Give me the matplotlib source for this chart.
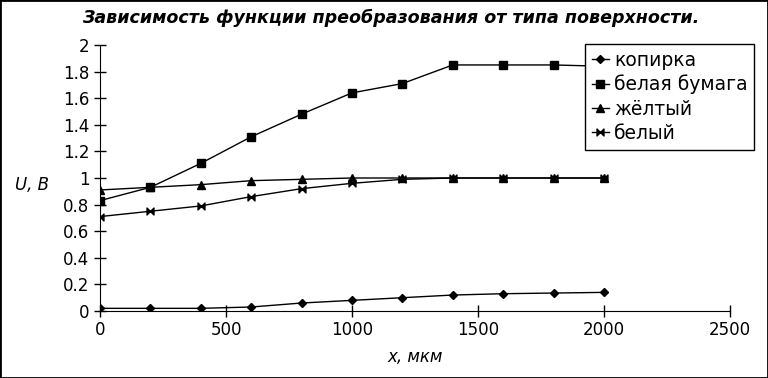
import matplotlib.pyplot as plt
from matplotlib.path import Path
from matplotlib.patches import Rectangle

x = [0, 200, 400, 600, 800, 1000, 1200, 1400, 1600, 1800, 2000]
kopirka = [0.02, 0.02, 0.02, 0.03, 0.06, 0.08, 0.10, 0.12, 0.13, 0.135, 0.14]
belaya_bumaga = [0.83, 0.93, 1.11, 1.31, 1.48, 1.64, 1.71, 1.85, 1.85, 1.85, 1.84]
zholtyi = [0.91, 0.93, 0.95, 0.98, 0.99, 1.0, 1.0, 1.0, 1.0, 1.0, 1.0]
belyi = [0.71, 0.75, 0.79, 0.86, 0.92, 0.96, 0.99, 1.0, 1.0, 1.0, 1.0]

# bowtie marker
bowtie = Path([(-1, 1), (1, -1), (1, 1), (-1, -1), (-1, 1)],
              [Path.MOVETO, Path.LINETO, Path.LINETO, Path.LINETO, Path.CLOSEPOLY])

plt.rcParams['font.family'] = 'DejaVu Sans'

fig = plt.figure(figsize=(7.68, 3.78), dpi=100)
ax = fig.add_axes([100/768, 1 - 311/378, 630/768, 266/378])

ax.plot(x, kopirka, color='black', lw=1, marker='D', ms=4, label='копирка')
ax.plot(x, belaya_bumaga, color='black', lw=1, marker='s', ms=6, label='белая бумага')
ax.plot(x, zholtyi, color='black', lw=1, marker='^', ms=6, label='жёлтый')
ax.plot(x, belyi, color='black', lw=1, marker=bowtie, ms=5, label='белый')

ax.set_xlim(0, 2500)
ax.set_ylim(0, 2)
ax.set_xticks([0, 500, 1000, 1500, 2000, 2500])
ax.set_yticks([0, 0.2, 0.4, 0.6, 0.8, 1, 1.2, 1.4, 1.6, 1.8, 2])
ax.set_yticklabels(['0', '0.2', '0.4', '0.6', '0.8', '1', '1.2', '1.4', '1.6', '1.8', '2'])
ax.tick_params(direction='inout', length=8, width=1, labelsize=12, color='black')
ax.spines['top'].set_visible(False)
ax.spines['right'].set_visible(False)

fig.text(0.508, 1 - 18/378, 'Зависимость функции преобразования от типа поверхности.',
         ha='center', va='center', fontsize=12.6, fontweight='bold', style='italic')
fig.text(32/768, 1 - 185/378, 'U, В', ha='center', va='center', fontsize=12, style='italic')
fig.text(415/768, 1 - 357/378, 'x, мкм', ha='center', va='center', fontsize=12, style='italic')

leg = ax.legend(loc='upper left', bbox_to_anchor=(585/768, 1 - 44/378), bbox_transform=fig.transFigure,
                fontsize=13.5, frameon=True, fancybox=False, edgecolor='black', framealpha=1,
                handlelength=0.95, handletextpad=0.25, borderpad=0.35, labelspacing=0.28, borderaxespad=0)
leg.get_frame().set_linewidth(1)

fig.patches.append(Rectangle((0, 0), 1, 1, transform=fig.transFigure, fill=False,
                             edgecolor='black', lw=2))

fig.savefig('out.png', dpi=100)
